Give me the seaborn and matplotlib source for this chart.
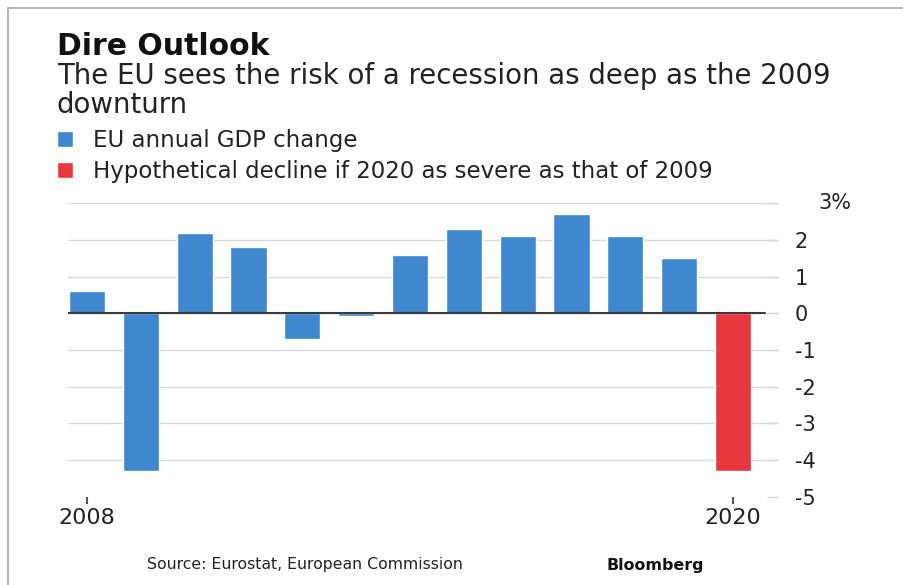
import matplotlib
matplotlib.use("Agg")
import matplotlib.pyplot as plt
from matplotlib.lines import Line2D
import seaborn as sns
import pandas as pd

# ---- data ----
years = [2008, 2009, 2010, 2011, 2012, 2013, 2014, 2015, 2016, 2017, 2018, 2019, 2020]
gdp_change = [0.6, -4.3, 2.2, 1.8, -0.7, -0.06, 1.6, 2.3, 2.1, 2.7, 2.1, 1.5, -4.3]
series_names = ["EU annual GDP change"] * 12 + ["Hypothetical decline if 2020 as severe as that of 2009"]
series_order = ["EU annual GDP change", "Hypothetical decline if 2020 as severe as that of 2009"]
series_colors = ["#3f87cf", "#e8383d"]
y_ticks = [3, 2, 1, 0, -1, -2, -3, -4, -5]
y_tick_labels = ["", "2", "1", "0", "-1", "-2", "-3", "-4", "-5"]
x_ticks = [2008, 2020]
x_tick_labels = ["2008", "2020"]

title = "Dire Outlook"
subtitle_lines = ["The EU sees the risk of a recession as deep as the 2009", "downturn"]
source = "Source: Eurostat, European Commission"
brand = "Bloomberg"

df = pd.DataFrame({"year": years, "change": gdp_change, "series": series_names})

sns.set_theme(style="white")
plt.rcParams["font.family"] = ["DejaVu Sans"]

W, H = 904, 585
fig = plt.figure(figsize=(W / 100, H / 100), dpi=100)
fig.patch.set_facecolor("white")
ax = fig.add_axes([68 / W, 1 - 496.7 / H, 710 / W, (496.7 - 203.3) / H])

sns.barplot(data=df, x="year", y="change", hue="series", hue_order=series_order,
            palette=series_colors, native_scale=True, dodge=False, width=0.67,
            saturation=1, ax=ax, legend=True)

ax.set_xlim(2007.647, 2020.836)
ax.set_ylim(-5, 3)
for s in ax.spines.values():
    s.set_visible(False)

# y axis on the right
ax.yaxis.tick_right()
ax.set_yticks(y_ticks)
ax.set_yticklabels(y_tick_labels)
ax.tick_params(axis="y", which="major", direction="in", length=8, width=1,
               color="#d6d6d6", pad=12, labelsize=15, labelcolor="#222222",
               left=False, right=True)
ax.yaxis.grid(True, color="#dadada", linewidth=1)
ax.set_axisbelow(True)
for t, v in zip(ax.yaxis.get_major_ticks(), y_ticks):
    if v == -5:
        t.gridline.set_visible(False)
ax.annotate("3%", xy=(1.0, 3), xycoords=("axes fraction", "data"),
            xytext=(29, 0), textcoords="offset points", ha="left", va="center",
            fontsize=15, color="#222222")
ax.axhline(0, xmin=0, xmax=0.982, color="#3a3a3a", linewidth=1.5, zorder=3)

# x axis
ax.set_xticks(x_ticks)
ax.set_xticklabels(x_tick_labels)
ax.tick_params(axis="x", direction="out", length=5, width=1.5, color="#555555",
               pad=3, labelsize=16, labelcolor="#222222", bottom=True)
ax.set_xlabel("")
ax.set_ylabel("")

# legend
sns.move_legend(ax, "upper left", bbox_to_anchor=(57 / W, 1 - 129 / H),
                bbox_transform=fig.transFigure, title=None, frameon=False,
                fontsize=16.5, handlelength=0.68, handleheight=0.68,
                handletextpad=0.9, labelspacing=0.35, borderpad=0, borderaxespad=0)
for txt in ax.get_legend().get_texts():
    txt.set_color("#222222")

# titles
fig.text(57 / W, 1 - 55 / H, title, fontsize=21.5, fontweight="bold", color="#111111",
         ha="left", va="baseline")
fig.text(57 / W, 1 - 84 / H, subtitle_lines[0], fontsize=19.9, color="#222222",
         ha="left", va="baseline")
fig.text(57 / W, 1 - 113 / H, subtitle_lines[1], fontsize=19.9, color="#222222",
         ha="left", va="baseline")

# footer
fig.text(147 / W, 1 - 569 / H, source, fontsize=11.3, color="#222222",
         ha="left", va="baseline")
fig.text(607 / W, 1 - 570 / H, brand, fontsize=11.4, fontweight="bold", color="#111111",
         ha="left", va="baseline")

# screenshot frame
fig.add_artist(Line2D([8 / W, 1], [1 - 8 / H, 1 - 8 / H], transform=fig.transFigure,
                      color="#a8a8a8", linewidth=1.2))
fig.add_artist(Line2D([8 / W, 8 / W], [0, 1 - 8 / H], transform=fig.transFigure,
                      color="#a8a8a8", linewidth=1.2))

fig.savefig("out.png", dpi=100, facecolor="white")
